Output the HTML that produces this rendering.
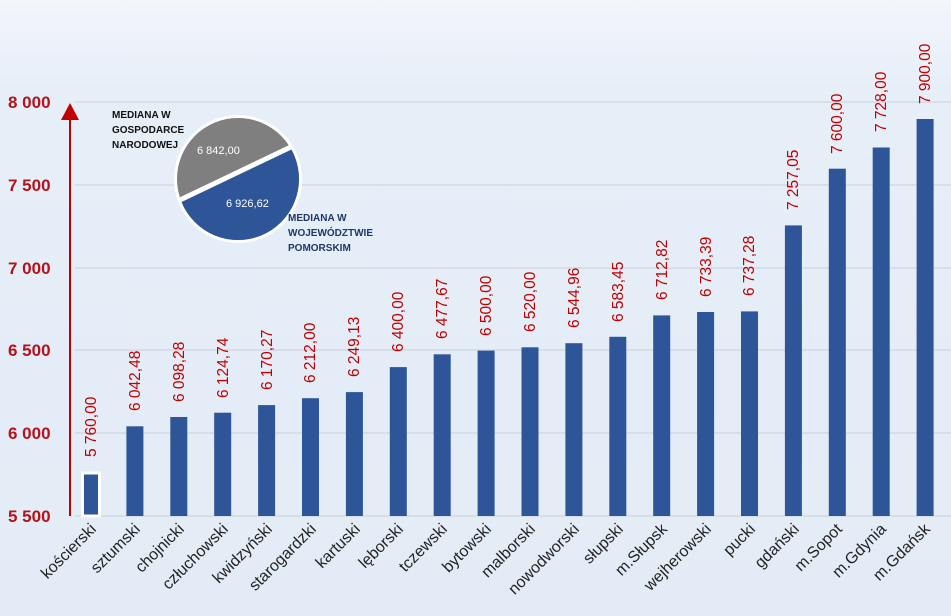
<!DOCTYPE html>
<html><head><meta charset="utf-8"><style>
body{margin:0;width:951px;height:616px;overflow:hidden;background:#e5edf7}
svg{display:block;font-family:"Liberation Sans",sans-serif}
</style></head><body>
<svg width="951" height="616" viewBox="0 0 951 616">
<defs>
<linearGradient id="bg" x1="0" y1="0" x2="0" y2="1"><stop offset="0" stop-color="#f3f6fb"/><stop offset="0.15" stop-color="#e6eef8"/><stop offset="1" stop-color="#e3ebf6"/></linearGradient>
<clipPath id="pc"><circle cx="238" cy="179" r="61"/></clipPath>
<clipPath id="pc2"><circle cx="238" cy="179" r="64"/></clipPath>
</defs>
<rect width="951" height="616" fill="url(#bg)"/>
<g stroke="#d2dae6" stroke-width="1.5">
<line x1="75" y1="102" x2="951" y2="102"/><line x1="75" y1="185" x2="951" y2="185"/><line x1="75" y1="268" x2="951" y2="268"/><line x1="75" y1="350" x2="951" y2="350"/><line x1="75" y1="433" x2="951" y2="433"/><line x1="75" y1="516" x2="951" y2="516"/>
</g>
<g fill="#b5121b" font-weight="bold" font-size="17">
<text x="8" y="108">8 000</text><text x="8" y="191">7 500</text><text x="8" y="274">7 000</text><text x="8" y="356">6 500</text><text x="8" y="439">6 000</text><text x="8" y="522">5 500</text>
</g>
<line x1="70" y1="118" x2="70" y2="516" stroke="#c00000" stroke-width="2"/>
<polygon points="61,120 79,120 70,103" fill="#c00000"/>
<g fill="#2e5597">
<rect x="82.5" y="473" width="17" height="43" stroke="#fff" stroke-width="3"/>
<rect x="126.4" y="426.3" width="17" height="89.7"/>
<rect x="170.3" y="417" width="17" height="99"/>
<rect x="214.2" y="412.7" width="17" height="103.3"/>
<rect x="258.1" y="405.1" width="17" height="110.9"/>
<rect x="302" y="398.2" width="17" height="117.8"/>
<rect x="345.9" y="392.1" width="17" height="123.9"/>
<rect x="389.8" y="367.1" width="17" height="148.9"/>
<rect x="433.7" y="354.3" width="17" height="161.7"/>
<rect x="477.6" y="350.6" width="17" height="165.4"/>
<rect x="521.5" y="347.3" width="17" height="168.7"/>
<rect x="565.4" y="343.2" width="17" height="172.8"/>
<rect x="609.3" y="336.8" width="17" height="179.2"/>
<rect x="653.2" y="315.4" width="17" height="200.6"/>
<rect x="697.1" y="312" width="17" height="204"/>
<rect x="741" y="311.4" width="17" height="204.6"/>
<rect x="784.9" y="225.4" width="17" height="290.6"/>
<rect x="828.8" y="168.7" width="17" height="347.3"/>
<rect x="872.7" y="147.5" width="17" height="368.5"/>
<rect x="916.6" y="119" width="17" height="397"/>
</g>
<g fill="#c00000" font-size="15.5">
<text transform="translate(96,457) rotate(-90)">5 760,00</text>
<text transform="translate(140,411) rotate(-90)">6 042,48</text>
<text transform="translate(184,402) rotate(-90)">6 098,28</text>
<text transform="translate(228,398) rotate(-90)">6 124,74</text>
<text transform="translate(272,390) rotate(-90)">6 170,27</text>
<text transform="translate(315,383) rotate(-90)">6 212,00</text>
<text transform="translate(359,377) rotate(-90)">6 249,13</text>
<text transform="translate(403,352) rotate(-90)">6 400,00</text>
<text transform="translate(447,339) rotate(-90)">6 477,67</text>
<text transform="translate(491,336) rotate(-90)">6 500,00</text>
<text transform="translate(535,332) rotate(-90)">6 520,00</text>
<text transform="translate(579,328) rotate(-90)">6 544,96</text>
<text transform="translate(623,322) rotate(-90)">6 583,45</text>
<text transform="translate(667,300) rotate(-90)">6 712,82</text>
<text transform="translate(711,297) rotate(-90)">6 733,39</text>
<text transform="translate(754,296) rotate(-90)">6 737,28</text>
<text transform="translate(798,210) rotate(-90)">7 257,05</text>
<text transform="translate(842,154) rotate(-90)">7 600,00</text>
<text transform="translate(886,132) rotate(-90)">7 728,00</text>
<text transform="translate(930,104) rotate(-90)">7 900,00</text>
</g>
<g fill="#222" font-size="16" text-anchor="end">
<text transform="translate(97,530) rotate(-45)">kościerski</text>
<text transform="translate(141,530) rotate(-45)">sztumski</text>
<text transform="translate(185,530) rotate(-45)">chojnicki</text>
<text transform="translate(229,530) rotate(-45)">człuchowski</text>
<text transform="translate(273,530) rotate(-45)">kwidzyński</text>
<text transform="translate(317,530) rotate(-45)">starogardzki</text>
<text transform="translate(361,530) rotate(-45)">kartuski</text>
<text transform="translate(404,530) rotate(-45)">lęborski</text>
<text transform="translate(448,530) rotate(-45)">tczewski</text>
<text transform="translate(492,530) rotate(-45)">bytowski</text>
<text transform="translate(536,530) rotate(-45)">malborski</text>
<text transform="translate(580,530) rotate(-45)">nowodworski</text>
<text transform="translate(624,530) rotate(-45)">słupski</text>
<text transform="translate(668,530) rotate(-45)">m.Słupsk</text>
<text transform="translate(712,530) rotate(-45)">wejherowski</text>
<text transform="translate(756,530) rotate(-45)">pucki</text>
<text transform="translate(800,530) rotate(-45)">gdański</text>
<text transform="translate(843,530) rotate(-45)">m.Sopot</text>
<text transform="translate(887,530) rotate(-45)">m.Gdynia</text>
<text transform="translate(931,530) rotate(-45)">m.Gdańsk</text>
</g>
<circle cx="238" cy="179" r="64" fill="#fff"/>
<circle cx="238" cy="179" r="61" fill="#7f7f7f"/>
<polygon clip-path="url(#pc)" points="150,214.3 330,128.3 330,260 150,260" fill="#2e5597"/>
<line clip-path="url(#pc2)" x1="150" y1="214.3" x2="330" y2="128.3" stroke="#fff" stroke-width="5"/>
<g fill="#fff" font-size="11"><text x="197" y="154">6 842,00</text><text x="226" y="207">6 926,62</text></g>
<g fill="#111" font-size="10" font-weight="bold"><text x="112" y="118">MEDIANA W</text><text x="112" y="133">GOSPODARCE</text><text x="112" y="148">NARODOWEJ</text></g>
<g fill="#1f3864" font-size="10" font-weight="bold"><text x="288" y="221">MEDIANA W</text><text x="288" y="236">WOJEWÓDZTWIE</text><text x="288" y="251">POMORSKIM</text></g>
</svg>
</body></html>
